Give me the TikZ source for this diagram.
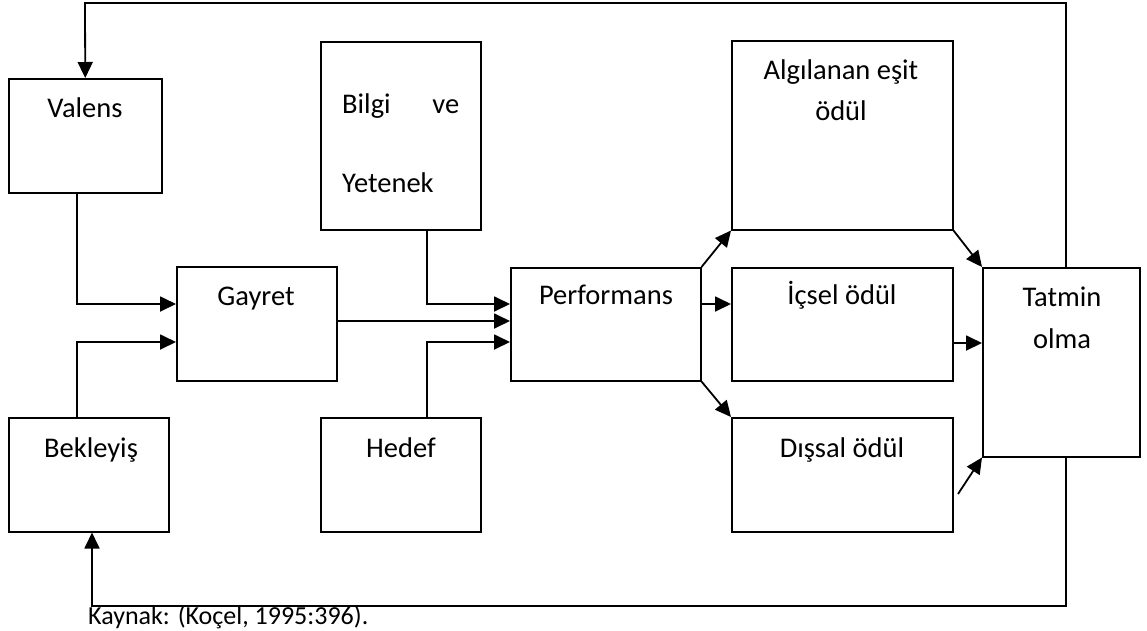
\documentclass[tikz,border=0pt]{standalone}
\usepackage{fontspec}
\setmainfont{Carlito}
\usetikzlibrary{arrows.meta}
\begin{document}
\begin{tikzpicture}[x=1pt,y=-1pt,
  box/.style={draw=black, line width=1.5pt, rectangle, inner sep=0pt, anchor=north west},
  lbl/.style={inner sep=0pt, anchor=base, font=\fontsize{28.5}{34}\selectfont},
  arr/.style={line width=1.8pt, -{Triangle[length=16pt,width=15pt]}},
  plain/.style={line width=1.8pt}]
\useasboundingbox (0,0) rectangle (1147,630);
% boxes
\node[box, minimum width=153pt, minimum height=114pt] (valens) at (8,78) {};
\node[box, minimum width=160pt, minimum height=188pt] (bilgi) at (320,41) {};
\node[box, minimum width=160pt, minimum height=114pt] (gayret) at (176,266) {};
\node[box, minimum width=160pt, minimum height=114pt] (bekleyis) at (8,417) {};
\node[box, minimum width=160pt, minimum height=114pt] (hedef) at (320,417) {};
\node[box, minimum width=190pt, minimum height=113pt] (perf) at (510,267) {};
\node[box, minimum width=221pt, minimum height=189pt] (algilanan) at (731,40) {};
\node[box, minimum width=221pt, minimum height=113pt] (icsel) at (731,267) {};
\node[box, minimum width=221pt, minimum height=114pt] (dissal) at (731,417) {};
\node[box, minimum width=157pt, minimum height=189pt] (tatmin) at (982,267) {};
% texts
\node[lbl] (tValens) at (85,117) {Valens};
\node[lbl, anchor=base west] (tBilgi) at (342,113) {\makebox[117pt][s]{Bilgi\hfill ve}};
\node[lbl, anchor=base west] (tYetenek) at (342,192) {Yetenek};
\node[lbl] (tGayret) at (256,305) {Gayret};
\node[lbl] (tPerf) at (606,304) {Performans};
\node[lbl] (tIcsel) at (842,304) {İçsel ödül};
\node[lbl] (tAlg1) at (841,79) {Algılanan eşit};
\node[lbl] (tAlg2) at (841,120) {ödül};
\node[lbl] (tTat1) at (1062,306) {Tatmin};
\node[lbl] (tTat2) at (1062,348) {olma};
\node[lbl] (tBek) at (91,457) {Bekleyiş};
\node[lbl] (tHedef) at (401,457) {Hedef};
\node[lbl] (tDis) at (842,457) {Dışsal ödül};
\node[lbl, anchor=base west, font=\fontsize{26}{31}\selectfont] (kaynak) at (88,624) {Kaynak: (Koçel, 1995:396).};
% helper coordinates
\coordinate (tl) at (85,3);
\coordinate (tr) at (1066,3);
\coordinate (bl) at (92,606);
\coordinate (br) at (1066,606);
\coordinate (gTop) at (77,304);
\coordinate (gBot) at (77,342);
\coordinate (pTop) at (427,304);
\coordinate (pMid) at (0,321);
\coordinate (pBot) at (427,342);
\coordinate (iy) at (0,304);
\coordinate (ty) at (0,343);
\coordinate (dFree) at (958,494);
% connectors
\draw[arr] (tatmin.north -| tr) -- (tr) -- (tl) -- (valens.north);
\draw[arr] (tatmin.south -| br) -- (br) -- (bl) -- (bekleyis.south -| bl);
\draw[arr] (valens.south -| gTop) -- (gTop) -- (gayret.west |- gTop);
\draw[arr] (bekleyis.north -| gBot) -- (gBot) -- (gayret.west |- gBot);
\draw[arr] (bilgi.south -| pTop) -- (pTop) -- (perf.west |- pTop);
\draw[arr] (gayret.east |- pMid) -- (perf.west |- pMid);
\draw[arr] (hedef.north -| pBot) -- (pBot) -- (perf.west |- pBot);
\draw[arr] (perf.north east) -- (algilanan.south west);
\draw[arr] (perf.east |- iy) -- (icsel.west |- iy);
\draw[arr] (perf.south east) -- (dissal.north west);
\draw[arr] (algilanan.south east) -- (tatmin.north west);
\draw[arr] (icsel.east |- ty) -- (tatmin.west |- ty);
\draw[arr] (dFree) -- (tatmin.south west);
\end{tikzpicture}
\end{document}
